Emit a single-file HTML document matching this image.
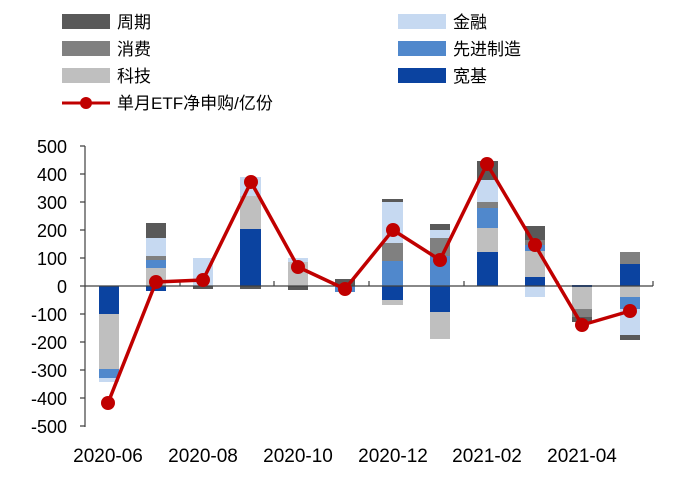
<!DOCTYPE html><html><head><meta charset="utf-8"><style>body{margin:0;background:#fff}svg{display:block}text{font-family:"Liberation Sans","Noto Sans CJK SC",sans-serif}</style></head><body>
<svg width="676" height="481" xmlns="http://www.w3.org/2000/svg">
<defs><style>.a{fill:#595959}.b{fill:#808080}.c{fill:#bfbfbf}.d{fill:#c6d9f1}.e{fill:#5088cc}.f{fill:#0b43a0}</style></defs>
<g font-size="17" fill="#000">
<rect class="a" x="62" y="14" width="48" height="15"/><text x="117" y="28">周期</text>
<rect class="b" x="62" y="41" width="48" height="15"/><text x="117" y="55">消费</text>
<rect class="c" x="62" y="68" width="48" height="15"/><text x="117" y="82">科技</text>
<rect class="d" x="398" y="14" width="48" height="15"/><text x="453" y="28">金融</text>
<rect class="e" x="398" y="41" width="48" height="15"/><text x="453" y="55">先进制造</text>
<rect class="f" x="398" y="68" width="48" height="15"/><text x="453" y="82">宽基</text>
<line x1="62" y1="103" x2="110" y2="103" stroke="#c00000" stroke-width="3"/><circle cx="86" cy="103" r="6" fill="#c00000"/><text x="117" y="109">单月ETF净申购/亿份</text>
</g>
<g>
<rect class="f" x="99" y="286" width="20" height="28"/><rect class="c" x="99" y="314" width="20" height="55"/><rect class="e" x="99" y="369" width="20" height="9"/><rect class="d" x="99" y="378" width="20" height="4"/>
<rect class="f" x="146" y="286" width="20" height="5"/><rect class="c" x="146" y="268" width="20" height="18"/><rect class="e" x="146" y="260" width="20" height="8"/><rect class="b" x="146" y="256" width="20" height="4"/><rect class="d" x="146" y="238" width="20" height="18"/><rect class="a" x="146" y="223" width="20" height="15"/>
<rect class="d" x="193" y="258" width="20" height="28"/><rect class="a" x="193" y="286" width="20" height="3"/>
<rect class="f" x="240" y="229" width="21" height="57"/><rect class="c" x="240" y="196" width="21" height="33"/><rect class="d" x="240" y="177" width="21" height="19"/><rect class="a" x="240" y="286" width="21" height="3"/>
<rect class="c" x="288" y="262" width="20" height="24"/><rect class="d" x="288" y="258" width="20" height="4"/><rect class="a" x="288" y="286" width="20" height="4"/>
<rect class="a" x="335" y="279" width="20" height="7"/><rect class="e" x="335" y="286" width="20" height="6"/>
<rect class="a" x="382" y="199" width="21" height="3"/><rect class="d" x="382" y="202" width="21" height="41"/><rect class="b" x="382" y="243" width="21" height="18"/><rect class="e" x="382" y="261" width="21" height="25"/><rect class="f" x="382" y="286" width="21" height="14"/><rect class="c" x="382" y="300" width="21" height="5"/>
<rect class="a" x="430" y="224" width="20" height="6"/><rect class="d" x="430" y="230" width="20" height="8"/><rect class="b" x="430" y="238" width="20" height="18"/><rect class="e" x="430" y="256" width="20" height="30"/><rect class="f" x="430" y="286" width="20" height="26"/><rect class="c" x="430" y="312" width="20" height="27"/>
<rect class="a" x="477" y="161" width="21" height="19"/><rect class="d" x="477" y="180" width="21" height="22"/><rect class="b" x="477" y="202" width="21" height="6"/><rect class="e" x="477" y="208" width="21" height="20"/><rect class="c" x="477" y="228" width="21" height="24"/><rect class="f" x="477" y="252" width="21" height="34"/>
<rect class="a" x="525" y="226" width="20" height="14"/><rect class="b" x="525" y="240" width="20" height="5"/><rect class="e" x="525" y="245" width="20" height="6"/><rect class="c" x="525" y="251" width="20" height="26"/><rect class="f" x="525" y="277" width="20" height="9"/><rect class="d" x="525" y="286" width="20" height="11"/>
<rect class="f" x="572" y="285" width="20" height="2"/><rect class="c" x="572" y="287" width="20" height="22"/><rect class="b" x="572" y="309" width="20" height="8"/><rect class="a" x="572" y="317" width="20" height="5"/>
<rect class="b" x="620" y="252" width="20" height="12"/><rect class="f" x="620" y="264" width="20" height="22"/><rect class="c" x="620" y="286" width="20" height="11"/><rect class="e" x="620" y="297" width="20" height="12"/><rect class="d" x="620" y="309" width="20" height="26"/><rect class="a" x="620" y="335" width="20" height="5"/>
</g>
<g stroke="#404040" stroke-width="1.2" fill="none">
<line x1="85" y1="146" x2="85" y2="427"/>
<line x1="85" y1="286" x2="653" y2="286"/>
<path d="M80 146H85M80 174H85M80 202H85M80 230H85M80 258H85M80 286H85M80 314H85M80 342H85M80 370H85M80 398H85M80 426H85"/>
<path d="M180 286V281M274 286V281M369 286V281M464 286V281M558 286V281M653 286V281"/>
</g>
<polyline points="108,403 156,282 203,280 251,182 298,267 345,289 393,230 440,260 487,164 535,245 582,325 630,311" fill="none" stroke="#c00000" stroke-width="3.5" stroke-linejoin="round"/>
<g fill="#c00000"><circle cx="108" cy="403" r="7"/><circle cx="156" cy="282" r="7"/><circle cx="203" cy="280" r="7"/><circle cx="251" cy="182" r="7"/><circle cx="298" cy="267" r="7"/><circle cx="345" cy="289" r="7"/><circle cx="393" cy="230" r="7"/><circle cx="440" cy="260" r="7"/><circle cx="487" cy="164" r="7"/><circle cx="535" cy="245" r="7"/><circle cx="582" cy="325" r="7"/><circle cx="630" cy="311" r="7"/></g>
<g font-size="18" fill="#000" text-anchor="end">
<text x="67" y="153">500</text><text x="67" y="181">400</text><text x="67" y="209">300</text><text x="67" y="237">200</text><text x="67" y="265">100</text><text x="67" y="293">0</text><text x="67" y="321">-100</text><text x="67" y="349">-200</text><text x="67" y="377">-300</text><text x="67" y="405">-400</text><text x="67" y="433">-500</text>
</g>
<g font-size="19" fill="#000" text-anchor="middle">
<text x="108" y="462">2020-06</text><text x="203" y="462">2020-08</text><text x="298" y="462">2020-10</text><text x="393" y="462">2020-12</text><text x="487" y="462">2021-02</text><text x="582" y="462">2021-04</text>
</g>
</svg>
</body></html>
